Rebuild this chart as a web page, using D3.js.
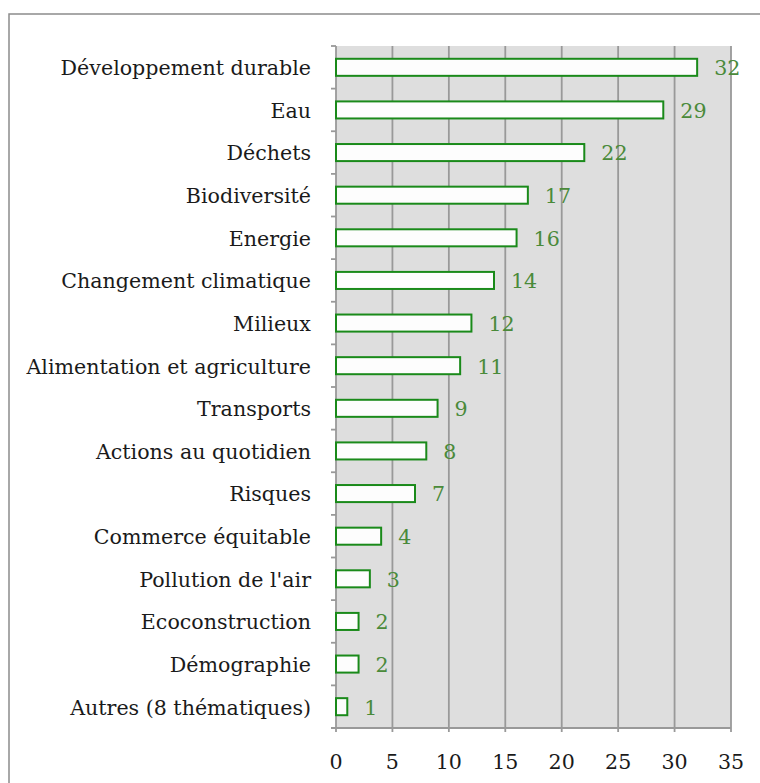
<!DOCTYPE html>
<html><head><meta charset="utf-8">
<script src="https://cdn.jsdelivr.net/npm/d3@7"></script>
<style>body{margin:0;background:#fff}svg{display:block}</style>
</head><body>
<script>
const categories = ["Développement durable","Eau","Déchets","Biodiversité","Energie","Changement climatique","Milieux","Alimentation et agriculture","Transports","Actions au quotidien","Risques","Commerce équitable","Pollution de l'air","Ecoconstruction","Démographie","Autres (8 thématiques)"];
const values = [32,29,22,17,16,14,12,11,9,8,7,4,3,2,2,1];
const xTicks = [0,5,10,15,20,25,30,35];

(function(){
const W=760,H=783;
const svg=d3.select("body").append("svg").attr("width",W).attr("height",H);
const font="DejaVu Serif, Cambria, serif";
const fs=20.6;
svg.append("rect").attr("x",9).attr("y",14).attr("width",W).attr("height",H).attr("fill","#fff").attr("stroke","#8c8c8c").attr("stroke-width",1.5);

const pl=336,pr=731,pt=46,pb=728;
const x=d3.scaleLinear().domain([0,35]).range([pl,pr]);
const y=d3.scaleBand().domain(categories).range([pt,pb]).paddingInner(0.6).paddingOuter(0.3);
const yb=d3.scaleBand().domain(categories).range([pt,pb]);

svg.append("rect").attr("x",pl).attr("y",pt).attr("width",pr-pl).attr("height",pb-pt).attr("fill","#dedede");
svg.append("g").selectAll("line").data(xTicks.slice(1)).join("line")
 .attr("x1",d=>x(d)).attr("x2",d=>x(d)).attr("y1",pt).attr("y2",pb+4)
 .attr("stroke","#999").attr("stroke-width",1.8);
svg.append("line").attr("x1",pl).attr("x2",pl).attr("y1",pt).attr("y2",pb+4).attr("stroke","#999").attr("stroke-width",1.8);
svg.append("line").attr("x1",pl-5).attr("x2",pr).attr("y1",pb).attr("y2",pb).attr("stroke","#999").attr("stroke-width",1.8);
const bounds=categories.map(c=>yb(c));
svg.append("g").selectAll("line").data(bounds).join("line")
 .attr("x1",pl-5).attr("x2",pl).attr("y1",d=>d).attr("y2",d=>d).attr("stroke","#999").attr("stroke-width",1.8);

svg.append("g").selectAll("rect").data(values).join("rect")
 .attr("x",x(0)).attr("y",(d,i)=>y(categories[i])).attr("width",d=>x(d)-x(0)).attr("height",y.bandwidth())
 .attr("fill","#fdfdfd").attr("stroke","#1a8a1a").attr("stroke-width",2);
svg.append("g").selectAll("text").data(values).join("text")
 .attr("x",d=>x(d)+17).attr("y",(d,i)=>yb(categories[i])+yb.bandwidth()/2).attr("dy","0.38em")
 .attr("font-family",font).attr("font-size",fs).attr("fill","#4a8a3a").text(d=>d);
svg.append("g").selectAll("text").data(categories).join("text")
 .attr("x",pl-25).attr("y",d=>yb(d)+yb.bandwidth()/2).attr("dy","0.38em").attr("text-anchor","end")
 .attr("font-family",font).attr("font-size",fs).attr("fill","#1a1a1a").text(d=>d);
svg.append("g").selectAll("text").data(xTicks).join("text")
 .attr("x",d=>x(d)).attr("y",pb+41).attr("text-anchor","middle")
 .attr("font-family",font).attr("font-size",fs).attr("fill","#1a1a1a").text(d=>d);
})();
</script>
</body></html>
